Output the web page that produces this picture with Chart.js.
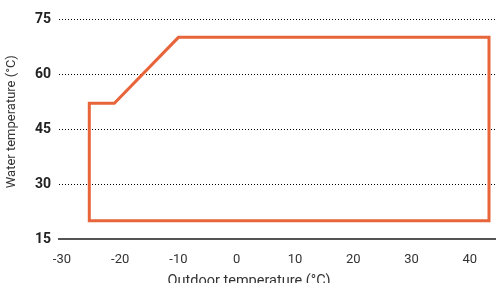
<!DOCTYPE html>
<html>
<head>
<meta charset="utf-8">
<script src="https://cdn.jsdelivr.net/npm/chart.js@4/dist/chart.umd.min.js"></script>
<style>
  html, body { margin: 0; padding: 0; background: #fff; overflow: hidden; }
  #wrap { position: relative; width: 496px; height: 290px; }
</style>
</head>
<body>
<div id="wrap"><canvas id="c" width="496" height="290"></canvas></div>
<script>
// Operating envelope outline (closed polygon)
const outdoorTemps = [-25.3, -25.3, -21, -10, 43.3, 43.3, -25.3];
const waterTemps   = [20, 52, 52, 70, 70, 20, 20];
const xTicks = [-30, -20, -10, 0, 10, 20, 30, 40];
const yTicks = [15, 30, 45, 60, 75];
const xTitle = 'Outdoor temperature (°C)';
const yTitle = 'Water temperature (°C)';

const points = outdoorTemps.map((x, i) => ({ x: x, y: waterTemps[i] }));

new Chart(document.getElementById('c'), {
  type: 'scatter',
  data: {
    datasets: [{
      data: points,
      showLine: true,
      borderColor: '#E8643A',
      backgroundColor: '#E8643A',
      borderWidth: 3,
      borderJoinStyle: 'miter',
      borderCapStyle: 'square',
      pointRadius: 0,
      pointHoverRadius: 0,
      tension: 0,
      fill: false
    }]
  },
  options: {
    responsive: false,
    animation: false,
    devicePixelRatio: 1,
    layout: { padding: { top: 19, right: 0, left: 0, bottom: 0 } },
    plugins: { legend: { display: false }, tooltip: { enabled: false } },
    scales: {
      x: {
        type: 'linear',
        min: -30.5,
        max: 44.5,
        afterBuildTicks: (s) => { s.ticks = xTicks.map(v => ({ value: v })); },
        afterFit: (s) => { s.height = 51; s.paddingLeft = 0; s.paddingRight = 0; },
        grid: { display: false, drawTicks: false },
        border: { display: true, color: '#555555', width: 2 },
        ticks: {
          padding: 13,
          color: '#333333',
          font: { family: 'Roboto', size: 13 },
          maxRotation: 0,
          autoSkip: false
        },
        title: {
          display: true,
          text: xTitle + '\u2007\u2007\u2007\u2007\u2007\u2007\u2007',
          color: '#333333',
          font: { family: 'Roboto', size: 14.5 },
          padding: { top: 0, bottom: 0 }
        }
      },
      y: {
        type: 'linear',
        min: 15,
        max: 75,
        afterBuildTicks: (s) => { s.ticks = yTicks.map(v => ({ value: v })); },
        afterFit: (s) => { s.width = 59; },
        grid: {
          drawTicks: false,
          lineWidth: 1,
          color: (ctx) => (ctx.tick && ctx.tick.value === 15) ? 'rgba(0,0,0,0)' : '#000000'
        },
        border: { display: false, dash: [1, 2] },
        ticks: {
          padding: 8,
          color: '#222222',
          font: { family: 'Roboto', size: 14, weight: 'bold' }
        },
        title: {
          display: true,
          text: '\u2007\u2007' + yTitle,
          color: '#333333',
          font: { family: 'Roboto', size: 13 },
          padding: { top: 4, bottom: 0 }
        }
      }
    }
  }
});
</script>
</body>
</html>
